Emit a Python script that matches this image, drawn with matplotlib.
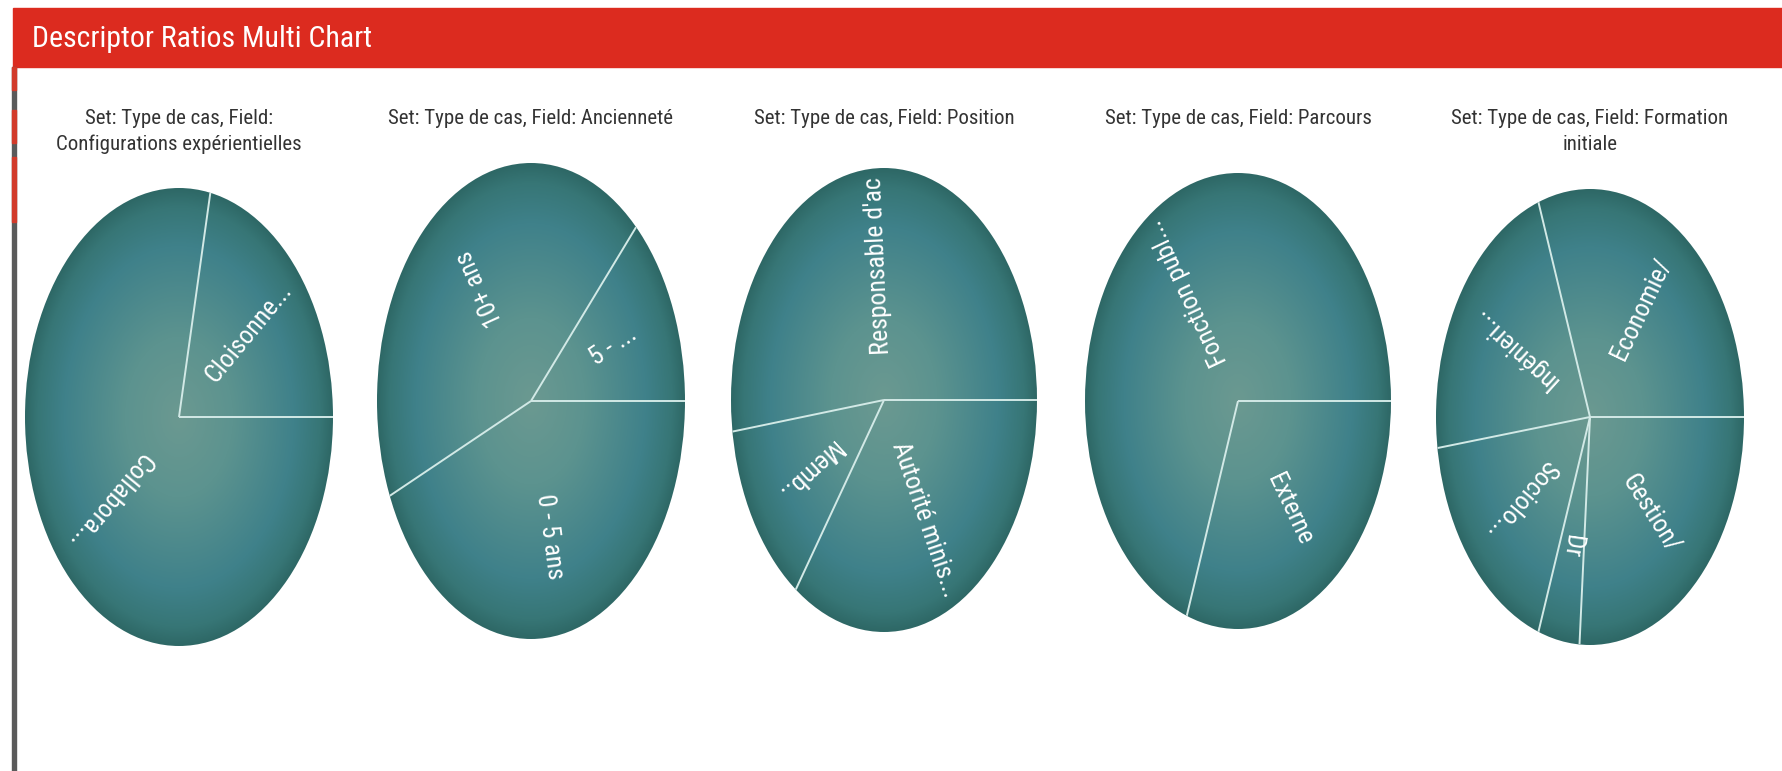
import numpy as np
import matplotlib.pyplot as plt
from matplotlib import font_manager
from matplotlib.colors import LinearSegmentedColormap
from matplotlib.patches import Circle, Rectangle

W, H = 1783, 771

# data
header = "Descriptor Ratios Multi Chart"
titles = [
    "Set: Type de cas, Field:\nConfigurations expérientielles",
    "Set: Type de cas, Field: Ancienneté",
    "Set: Type de cas, Field: Position",
    "Set: Type de cas, Field: Parcours",
    "Set: Type de cas, Field: Formation\ninitiale",
]
labels_1 = ["Cloisonne...", "Collabora..."]
values_1 = [5, 18]
labels_2 = ["5 - ...", "10+ ans", "0 - 5 ans"]
values_2 = [3, 10, 10]
labels_3 = ["Responsable d'ac", "Memb..", "Autorité minis..."]
values_3 = [12, 3, 8]
labels_4 = ["Fonction publ...", "Externe"]
values_4 = [16, 7]
labels_5 = ["Economie/", "Ingénieri...", "Sociolo...", "Dr", "Gestion/"]
values_5 = [7, 5, 4, 1, 6]

all_labels = [labels_1, labels_2, labels_3, labels_4, labels_5]
all_values = [values_1, values_2, values_3, values_4, values_5]

# layout in pixels (centre x, centre y, half width, half height)
cx = [179, 531, 884, 1238, 1590]
cy = [417, 401, 400, 401, 417]
ha_px = [154, 154, 153, 153, 154]
hb_px = [229, 238, 232, 228, 228]

# pick a narrow face if one is there
fonts = font_manager.fontManager.ttflist
names = {f.name for f in fonts}
narrow = dict(family="Liberation Sans")
narrow_ok = False
for nm in ["Liberation Sans Narrow", "Arial Narrow", "Roboto Condensed",
           "Open Sans Condensed", "Noto Sans Condensed"]:
    if nm in names:
        narrow = dict(family=nm)
        narrow_ok = True
        break
if not narrow_ok:
    for fam in ["DejaVu Sans", "Noto Sans", "Open Sans", "Roboto"]:
        if any(str(f.stretch) not in ("normal", "500") for f in fonts if f.name == fam):
            narrow = dict(family=fam, stretch="condensed")
            narrow_ok = True
            break
scale = 1.0 if narrow_ok else 0.88

teal = LinearSegmentedColormap.from_list(
    "teal", [(0.0, "#6b9991"), (0.35, "#5c938f"), (0.75, "#3f818a"),
             (0.92, "#377676"), (1.0, "#2e6866")])

fig = plt.figure(figsize=(W / 100, H / 100), dpi=100)
fig.patch.set_facecolor("white")

# header bar
fig.add_artist(Rectangle((13 / W, 1 - 67 / H), 1, 59 / H, transform=fig.transFigure,
                         color="#dc2b1f", zorder=0))
fig.text(32 / W, 1 - 39 / H, header, color="white", fontsize=21.5 * scale,
         ha="left", va="center", **narrow)

# left browser strip
fig.add_artist(Rectangle((12 / W, 0), 4 / W, 1 - 67 / H, transform=fig.transFigure,
                         color="#5a5a5a", zorder=0))
for y0, y1 in [(67, 90), (110, 143), (157, 222)]:
    fig.add_artist(Rectangle((12 / W, 1 - y1 / H), 4 / W, (y1 - y0) / H,
                             transform=fig.transFigure, color="#d23a2a", zorder=1))

yy, xx = np.mgrid[-1:1:400j, -1:1:400j]
rr = np.sqrt(xx ** 2 + yy ** 2)

for i in range(5):
    rect = [(cx[i] - ha_px[i]) / W, 1 - (cy[i] + hb_px[i]) / H,
            2 * ha_px[i] / W, 2 * hb_px[i] / H]
    ax = fig.add_axes(rect)
    wedges, _ = ax.pie(all_values[i], startangle=0, counterclock=True, radius=1,
                       wedgeprops=dict(facecolor="none", edgecolor="none"))
    clip = Circle((0, 0), 1, transform=ax.transData)
    img = ax.imshow(rr, cmap=teal, vmin=0, vmax=1, extent=(-1, 1, -1, 1),
                    origin="lower", interpolation="bilinear", aspect="auto", zorder=1)
    img.set_clip_path(clip)
    ax.set_aspect("auto")
    ax.set_xlim(-1, 1)
    ax.set_ylim(-1, 1)
    ax.axis("off")

    for w, lab in zip(wedges, all_labels[i]):
        t = np.deg2rad(w.theta1)
        ln, = ax.plot([0, np.cos(t)], [0, np.sin(t)], color="#d2e9e6", lw=1.4,
                      zorder=3, solid_capstyle="butt")
        ln.set_clip_path(clip)
        m = (w.theta1 + w.theta2) / 2
        mr = np.deg2rad(m)
        txt = ax.text(0.58 * np.cos(mr), 0.58 * np.sin(mr), lab, color="white",
                      fontsize=18.5 * scale, rotation=m,
                      transform_rotates_text=True, rotation_mode="anchor",
                      ha="center", va="center", zorder=4, **narrow)
        txt.set_clip_path(clip)

    fig.text(cx[i] / W, 1 - 109 / H, titles[i], color="#333333", fontsize=15 * scale,
             ha="center", va="top", linespacing=1.45, **narrow)

fig.savefig("out.png", dpi=100)
